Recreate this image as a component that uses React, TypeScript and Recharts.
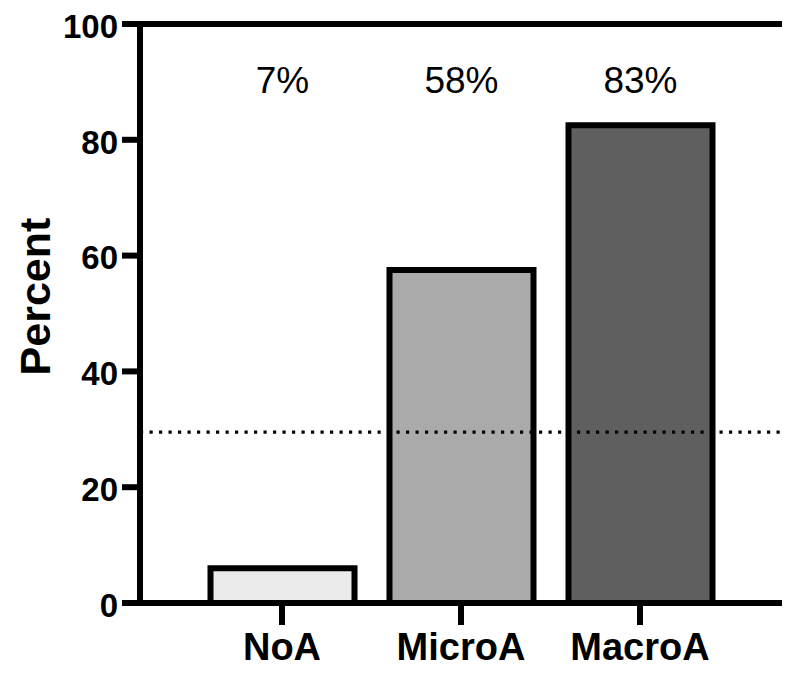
import React from 'react';
import { BarChart, Bar, XAxis, YAxis, Cell, ReferenceLine, LabelList } from 'recharts';

const categories = ['NoA', 'MicroA', 'MacroA'];
const percentValues = [6, 57.5, 82.5];
const percentLabels = ['7%', '58%', '83%'];
const barColors = ['#ebebeb', '#aaaaaa', '#5f5f5f'];
const yTicks = [0, 20, 40, 60, 80, 100];
const thresholdValue = 29.5;
const yAxisTitle = 'Percent';

const data = categories.map((c, i) => ({ name: c, value: percentValues[i], label: percentLabels[i] }));

const FONT = '"Liberation Sans", Arial, Helvetica, sans-serif';

const renderTopLabel = (props: any) => {
  const { x, width, value } = props;
  return (
    <text
      x={Number(x) + Number(width) / 2}
      y={93}
      textAnchor="middle"
      fontFamily={FONT}
      fontSize={37}
      fill="#000"
    >
      {value}
    </text>
  );
};

const renderYTitle = (props: any) => {
  const vb = props.viewBox || { x: 0, y: 24, width: 140, height: 579 };
  const x = vb.x + 50;
  const y = vb.y + vb.height / 2 - 17;
  return (
    <text
      x={x}
      y={y}
      transform={`rotate(-90, ${x}, ${y})`}
      textAnchor="middle"
      fontFamily={FONT}
      fontWeight="bold"
      fontSize={43}
      fill="#000"
    >
      {yAxisTitle}
    </text>
  );
};

export default function App() {
  return (
    <div style={{ position: 'absolute', left: 0, top: 0, width: 800, height: 673, background: '#fff' }}>
      <BarChart width={800} height={673} data={data} margin={{ top: 24, right: 18, bottom: 0, left: 0 }}>
        <XAxis
          dataKey="name"
          height={70}
          padding={{ left: 52.5, right: 52.5 }}
          axisLine={{ stroke: '#000', strokeWidth: 6 }}
          tickLine={{ stroke: '#000', strokeWidth: 6 }}
          tickSize={22}
          tickMargin={8}
          interval={0}
          tick={{ fill: '#000', fontSize: 38, fontWeight: 'bold', fontFamily: FONT }}
        />
        <YAxis
          domain={[0, 100]}
          ticks={yTicks}
          width={140}
          tickSize={18}
          tickMargin={4}
          interval={0}
          axisLine={{ stroke: '#000', strokeWidth: 6 }}
          tickLine={{ stroke: '#000', strokeWidth: 6 }}
          tick={{ fill: '#000', fontSize: 33, fontWeight: 'bold', fontFamily: FONT, dy: 2 }}
          label={{ content: renderYTitle }}
        />
        <YAxis
          yAxisId="right"
          orientation="right"
          domain={[0, 100]}
          width={0}
          tick={false}
          tickLine={false}
          axisLine={{ stroke: '#000', strokeWidth: 6 }}
        />
        <ReferenceLine y={100} stroke="#000" strokeWidth={6} />
        <ReferenceLine y={thresholdValue} stroke="#000" strokeWidth={3.2} strokeDasharray="3.2 6.3" />
        <Bar dataKey="value" barSize={144} stroke="#000" strokeWidth={6} isAnimationActive={false}>
          {data.map((d, i) => (
            <Cell key={d.name} fill={barColors[i]} />
          ))}
          <LabelList dataKey="label" content={renderTopLabel} />
        </Bar>
      </BarChart>
    </div>
  );
}
